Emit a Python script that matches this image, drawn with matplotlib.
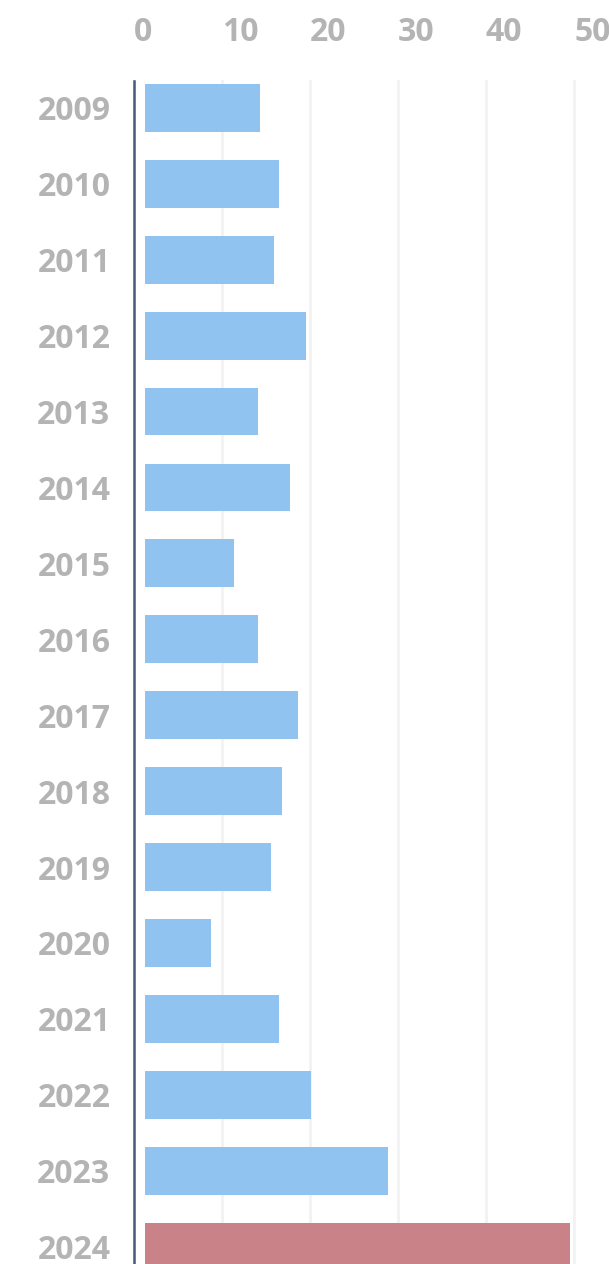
import numpy as np
import matplotlib
matplotlib.use("Agg")
import matplotlib.pyplot as plt

# data
years = ["2009", "2010", "2011", "2012", "2013", "2014", "2015", "2016",
         "2017", "2018", "2019", "2020", "2021", "2022", "2023", "2024"]
values = [14.3, 16.5, 15.9, 19.5, 14.1, 17.7, 11.4, 14.1,
          18.6, 16.8, 15.6, 8.75, 16.5, 20.1, 28.9, 49.5]
x_ticks = [0, 10, 20, 30, 40, 50]

blue = "#90c3f0"
red = "#c98287"
grey = "#b4b4b4"

plt.rcParams['font.family'] = ['Open Sans', 'DejaVu Sans']

fig = plt.figure(figsize=(6.09, 12.64), dpi=100)
ax = fig.add_axes([134 / 609, 0, (574 - 134) / 609, 1 - 81 / 1264])

y = np.arange(len(years))
colors = [blue] * (len(years) - 1) + [red]
bar_pad = 1.25  # bars start slightly right of the axis line
ax.barh(y, np.array(values) - bar_pad, left=bar_pad, height=0.63, color=colors, zorder=2)

ax.set_xlim(0, 50)
ax.set_ylim(len(years) - 1 + 0.23, -0.355)

ax.set_xticks(x_ticks)
ax.set_yticks(y)
ax.set_yticklabels(years)
ax.xaxis.tick_top()
ax.tick_params(axis='x', length=0, pad=23, labelsize=23, labelcolor=grey)
ax.tick_params(axis='y', length=0, pad=17, labelsize=23, labelcolor=grey)
for lab in ax.get_xticklabels() + ax.get_yticklabels():
    lab.set_fontweight('bold')
for lab in ax.get_xticklabels():
    lab.set_ha('left')

ax.grid(axis='x', color='#f2f2f2', linewidth=2, zorder=0)
for g in ax.get_xgridlines():
    g.set_clip_on(False)

for s in ['top', 'right', 'bottom']:
    ax.spines[s].set_visible(False)
ax.spines['left'].set_color('#4a5a7a')
ax.spines['left'].set_linewidth(1.8)

fig.savefig("out.png", dpi=100)
